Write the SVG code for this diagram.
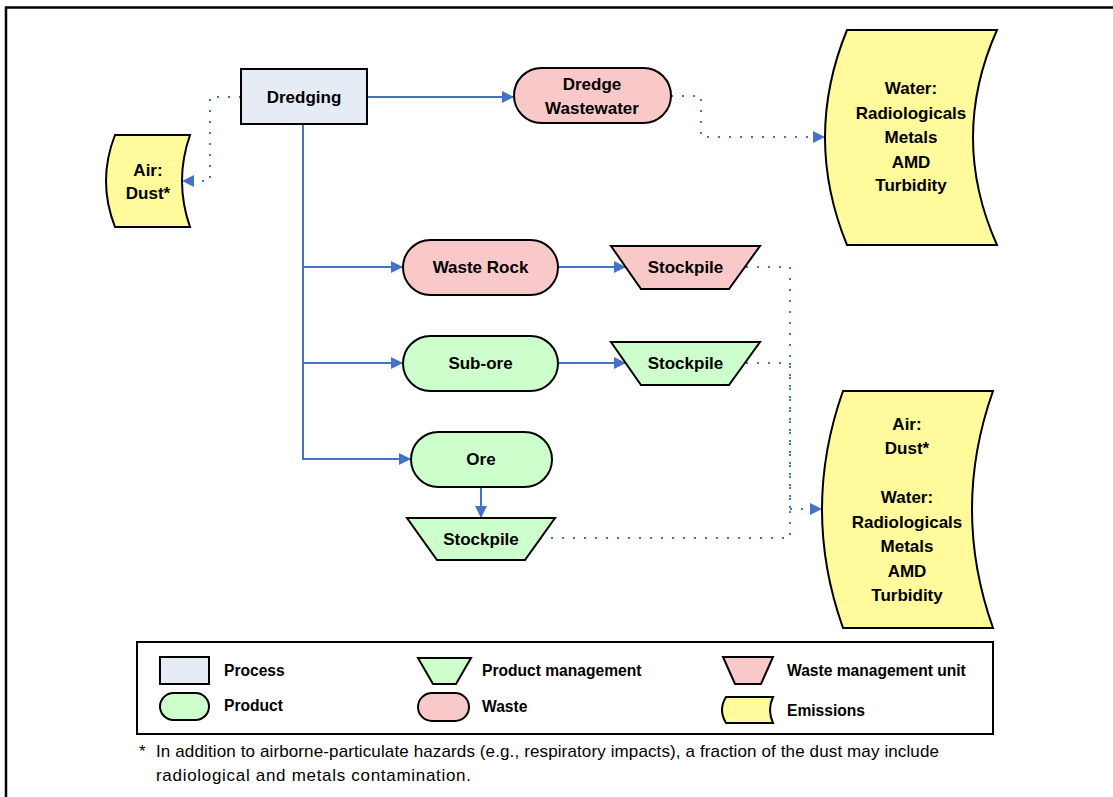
<svg xmlns="http://www.w3.org/2000/svg" width="1113" height="797" viewBox="0 0 1113 797">
  <style>
    .node { stroke: #000; stroke-width: 2; }
    .process { fill: #E6ECF6; }
    .product { fill: #CCFFCC; }
    .waste { fill: #F9C9C9; }
    .emission { fill: #FFFA9C; }
    .lbl { font-family: "Liberation Sans", Arial, sans-serif; font-weight: bold; font-size: 17px; fill: #000; text-anchor: middle; }
    .leg { font-family: "Liberation Sans", Arial, sans-serif; font-weight: bold; font-size: 15.6px; fill: #000; }
    .note { font-family: "Liberation Sans", Arial, sans-serif; font-size: 17px; fill: #000; }
    .flow { fill: none; stroke: #4472C4; stroke-width: 2; }
    .dot { fill: none; stroke: #4472C4; stroke-width: 2; stroke-dasharray: 2 9; }
  </style>
  <defs>
    <marker id="arrow" markerUnits="userSpaceOnUse" markerWidth="13" markerHeight="13" refX="12" refY="6" orient="auto">
      <path d="M0,0 L12,6 L0,12 Z" fill="#4472C4"/>
    </marker>
  </defs>

  <rect width="1113" height="797" fill="#fff"/>
  <!-- outer frame (cropped on right and bottom) -->
  <rect x="6" y="7.5" width="1130" height="820" fill="none" stroke="#000" stroke-width="2.5"/>

  <!-- connectors -->
  <g id="connectors">
    <path class="flow" d="M367,97 L514,97" marker-end="url(#arrow)"/>
    <path class="flow" d="M303,124 L303,459 L411,459"/>
    <path class="flow" d="M303,459 L411,459" marker-end="url(#arrow)"/>
    <path class="flow" d="M303,267 L403,267" marker-end="url(#arrow)"/>
    <path class="flow" d="M303,363 L403,363" marker-end="url(#arrow)"/>
    <path class="flow" d="M558,267 L626,267" marker-end="url(#arrow)"/>
    <path class="flow" d="M558,363 L626,363" marker-end="url(#arrow)"/>
    <path class="flow" d="M481,487 L481,518" marker-end="url(#arrow)"/>
    <path class="dot" d="M241,97 L210,97 L210,181 L182,181" marker-end="url(#arrow)"/>
    <path class="dot" d="M671,96 L701,96 L701,137 L825,137" marker-end="url(#arrow)"/>
    <path class="dot" d="M746,267 L790,267 L790,509 L822,509" marker-end="url(#arrow)"/>
    <path class="dot" d="M746,363 L790,363 L790,509"/>
    <path class="dot" d="M540,538 L790,538 L790,509"/>
  </g>

  <g id="dredging">
    <rect class="node process" x="241" y="69" width="126" height="55"/>
    <text class="lbl" x="304" y="103">Dredging</text>
  </g>

  <g id="air-dust-small">
    <path class="node emission" d="M115,135 L190,135 Q174,181 190,227 L115,227 Q97,181 115,135 Z"/>
    <text class="lbl" x="148" y="176">Air:</text>
    <text class="lbl" x="148" y="199">Dust*</text>
  </g>

  <g id="dredge-wastewater">
    <rect class="node waste" x="514" y="68" width="157" height="55" rx="27.5"/>
    <text class="lbl" x="592" y="90">Dredge</text>
    <text class="lbl" x="592" y="114">Wastewater</text>
  </g>

  <g id="water-emissions">
    <path class="node emission" d="M847,30 L997,30 Q949,137.5 997,245 L847,245 Q803,137.5 847,30 Z"/>
    <text class="lbl" x="911" y="94">Water:</text>
    <text class="lbl" x="911" y="118.5">Radiologicals</text>
    <text class="lbl" x="911" y="143">Metals</text>
    <text class="lbl" x="911" y="167.5">AMD</text>
    <text class="lbl" x="911" y="191">Turbidity</text>
  </g>

  <g id="waste-rock">
    <rect class="node waste" x="403" y="240" width="155" height="55" rx="27.5"/>
    <text class="lbl" x="480.5" y="273">Waste Rock</text>
  </g>

  <g id="waste-stockpile">
    <path class="node waste" d="M611,246 L760,246 L729,289 L641,289 Z"/>
    <text class="lbl" x="685.5" y="273">Stockpile</text>
  </g>

  <g id="sub-ore">
    <rect class="node product" x="403" y="336" width="155" height="55" rx="27.5"/>
    <text class="lbl" x="480.5" y="369">Sub-ore</text>
  </g>

  <g id="sub-ore-stockpile">
    <path class="node product" d="M611,342 L760,342 L729,385 L641,385 Z"/>
    <text class="lbl" x="685.5" y="369">Stockpile</text>
  </g>

  <g id="ore">
    <rect class="node product" x="411" y="432" width="141" height="55" rx="27.5"/>
    <text class="lbl" x="481" y="465">Ore</text>
  </g>

  <g id="ore-stockpile">
    <path class="node product" d="M407,518 L555,518 L525,560 L437,560 Z"/>
    <text class="lbl" x="481" y="545">Stockpile</text>
  </g>

  <g id="air-water-emissions">
    <path class="node emission" d="M843,391 L993,391 Q951,509.5 993,628 L843,628 Q801,509.5 843,391 Z"/>
    <text class="lbl" x="907" y="429.5">Air:</text>
    <text class="lbl" x="907" y="454">Dust*</text>
    <text class="lbl" x="907" y="503">Water:</text>
    <text class="lbl" x="907" y="527.5">Radiologicals</text>
    <text class="lbl" x="907" y="552">Metals</text>
    <text class="lbl" x="907" y="576.5">AMD</text>
    <text class="lbl" x="907" y="601">Turbidity</text>
  </g>

  <!-- legend -->
  <g id="legend">
    <rect x="137" y="642" width="856" height="92" fill="#fff" stroke="#000" stroke-width="2"/>
    <rect class="node process" x="160" y="657" width="49" height="27"/>
    <text class="leg" x="224" y="676">Process</text>
    <rect class="node product" x="160" y="693" width="49" height="27" rx="13.5"/>
    <text class="leg" x="224" y="711">Product</text>
    <path class="node product" d="M418,658 L471,658 L456,684 L433,684 Z"/>
    <text class="leg" x="482" y="676">Product management</text>
    <rect class="node waste" x="418" y="693" width="51" height="28" rx="14"/>
    <text class="leg" x="482" y="712">Waste</text>
    <path class="node waste" d="M723,657 L773,657 L761,684 L735,684 Z"/>
    <text class="leg" x="787" y="676">Waste management unit</text>
    <path class="node emission" d="M726,697 L773,697 Q767,710 773,723 L726,723 Q718,710 726,697 Z"/>
    <text class="leg" x="787" y="716">Emissions</text>
  </g>

  <g id="footnote">
    <text class="note" x="139" y="757">*</text>
    <text class="note" x="156" y="757" textLength="783" lengthAdjust="spacing">In addition to airborne-particulate hazards (e.g., respiratory impacts), a fraction of the dust may include</text>
    <text class="note" x="156" y="781" textLength="315" lengthAdjust="spacing">radiological and metals contamination.</text>
  </g>
</svg>
